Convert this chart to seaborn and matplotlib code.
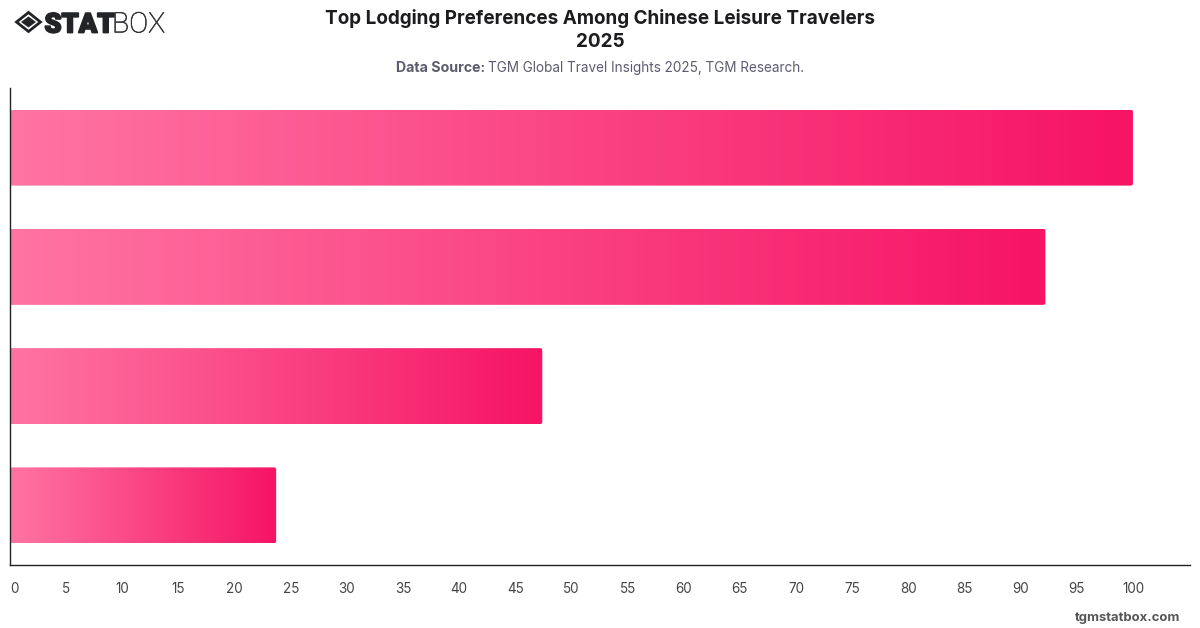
import numpy as np
import pandas as pd
import matplotlib
matplotlib.use("Agg")
import matplotlib.pyplot as plt
import matplotlib.patheffects as pe
from matplotlib.colors import LinearSegmentedColormap
from matplotlib.patches import FancyBboxPatch, Polygon
from matplotlib.transforms import IdentityTransform
import seaborn as sns

# Lodging options ranked by preference; the chart leaves them unlabelled
lodging_rank = ["1", "2", "3", "4"]
preference_share = [100.0, 92.2, 47.4, 23.7]
x_ticks = list(range(0, 101, 5))

title_lines = ["Top Lodging Preferences Among Chinese Leisure Travelers", "2025"]
source_label = "Data Source:"
source_text = "TGM Global Travel Insights 2025, TGM Research."
site_text = "tgmstatbox.com"

W, H = 1200, 628
sns.set_theme(style="white")
plt.rcParams["font.family"] = ["Inter", "Liberation Sans", "DejaVu Sans"]

fig = plt.figure(figsize=(W / 100, H / 100), dpi=100, facecolor="white")
ax = fig.add_axes([10.0 / W, 1 - 565.0 / H, (1190 - 10.0) / W, (565.0 - 88) / H])

df = pd.DataFrame({"rank": lodging_rank, "share": preference_share})
sns.barplot(data=df, y="rank", x="share", orient="h", width=0.637,
            color="#ff3d7f", ax=ax, saturation=1)

ax.set_xlim(0, 105.08)
ax.set_ylim(3.5, -0.5)
ax.set_xlabel("")
ax.set_ylabel("")
ax.set_yticks([])
ax.set_xticks(x_ticks)
ax.tick_params(axis="x", length=0, pad=12, labelsize=9.7, labelcolor="#444444")
ax.get_xticklabels()[0].set_ha("left")
for side in ("top", "right"):
    ax.spines[side].set_visible(False)
for side in ("left", "bottom"):
    ax.spines[side].set_color("#222222")
    ax.spines[side].set_linewidth(1.0)

# Replace each flat bar with a horizontal gradient whose right corners are rounded
ramp = LinearSegmentedColormap.from_list("bar_ramp", ["#ff74a3", "#f61464"])
gradient = np.linspace(0, 1, 256).reshape(1, -1)
for bar in list(ax.patches):
    x0, y0, w, h = bar.get_x(), bar.get_y(), bar.get_width(), bar.get_height()
    bar.set_visible(False)
    img = ax.imshow(gradient, cmap=ramp, aspect="auto", zorder=1.5,
                    extent=(x0, x0 + w, y0 + h, y0), interpolation="bilinear")
    (px0, py0), (px1, py1) = ax.transData.transform([(x0, y0 + h), (x0 + w, y0)])
    clip = FancyBboxPatch((px0 - 6, py0), px1 - px0 + 6, py1 - py0,
                          boxstyle="round,pad=0,rounding_size=2",
                          transform=IdentityTransform())
    img.set_clip_path(clip)
ax.set_xlim(0, 105.08)
ax.set_ylim(3.5, -0.5)


def px(x, y):
    return x / W, 1 - y / H


# Heading block
fig.text(*px(600, 24), title_lines[0], ha="center", va="baseline",
         fontsize=13.6, fontweight="bold", color="#1c1c1f")
fig.text(*px(600, 47), title_lines[1], ha="center", va="baseline",
         fontsize=13.6, fontweight="bold", color="#1c1c1f")
fig.text(*px(485.5, 72), source_label, ha="right", va="baseline", fontsize=10.2,
         fontweight="bold", color="#5c5c6e")
fig.text(*px(488.5, 72), source_text, ha="left", va="baseline", fontsize=9.75,
         color="#5c5c6e")
fig.text(*px(1180.5, 617.5), site_text, ha="right", va="center", fontsize=9.4,
         fontweight="bold", color="#555555")

# Brand mark: a chevron ring around a solid diamond, followed by the wordmark
logo = "#222428"
outer = [px(16.5, 22), px(28.5, 12.5), px(40.5, 22), px(28.5, 31.5)]
inner = [px(21, 22), px(28.5, 16.5), px(36, 22), px(28.5, 27.5)]
fig.add_artist(Polygon(outer, closed=True, fc="none", ec=logo, lw=2.0,
                       transform=fig.transFigure))
fig.add_artist(Polygon(inner, closed=True, fc=logo, ec="none",
                       transform=fig.transFigure))
stat = fig.text(*px(44.5, 32.5), "STAT", ha="left", va="baseline", fontsize=19.6,
                fontweight="black", color=logo,
                family=["Roboto", "Inter", "DejaVu Sans"])
stat.set_path_effects([pe.withStroke(linewidth=1.3, foreground=logo)])
box = fig.text(*px(112, 32.5), "BOX", ha="left", va="baseline", fontsize=20.5,
               fontweight="light", color="#2e3034",
               family=["Roboto", "Inter", "DejaVu Sans"])
box.set_path_effects([pe.withStroke(linewidth=0.35, foreground="#2e3034")])

fig.savefig("out.png", dpi=100, facecolor="white")
